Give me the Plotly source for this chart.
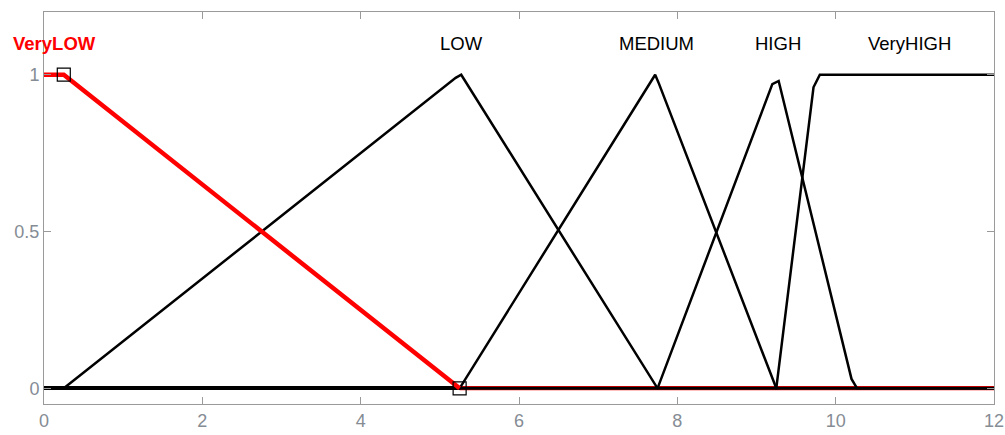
import plotly.graph_objects as go

# membership functions (input range 0..12)
verylow_x = [0, 0.25, 5.25, 12]
verylow_y = [1, 1, 0, 0]
low_x = [0, 0.25, 5.2, 5.27, 7.75, 12]
low_y = [0, 0, 0.99, 1, 0, 0]
medium_x = [0, 5.25, 7.72, 7.77, 9.25, 12]
medium_y = [0, 0, 1, 0.97, 0, 0]
high_x = [0, 7.75, 9.2, 9.28, 10.2, 10.27, 12]
high_y = [0, 0, 0.97, 0.98, 0.03, 0, 0]
veryhigh_x = [0, 9.25, 9.72, 9.8, 12]
veryhigh_y = [0, 0, 0.96, 1, 1]

# selected MF handles (VeryLOW vertices)
handle_x = [0.25, 5.25]
handle_y = [1, 0]

mf_names = ["VeryLOW", "LOW", "MEDIUM", "HIGH", "VeryHIGH"]
label_x = [0.13, 5.27, 7.74, 9.27, 10.93]
label_y = 1.1

x_ticks = [0, 2, 4, 6, 8, 10, 12]
y_ticks = [0, 0.5, 1]

fig = go.Figure()

# selected MF in red: flat zero tail sits under the black lines, slope on top
fig.add_trace(go.Scatter(x=verylow_x[2:], y=verylow_y[2:], mode="lines",
                         line=dict(color="#ff0000", width=4)))
for xs, ys in [(low_x, low_y), (medium_x, medium_y), (high_x, high_y), (veryhigh_x, veryhigh_y)]:
    fig.add_trace(go.Scatter(x=xs, y=ys, mode="lines",
                             line=dict(color="black", width=2.5)))
fig.add_trace(go.Scatter(x=verylow_x[:3], y=verylow_y[:3], mode="lines",
                         line=dict(color="#ff0000", width=4.5)))
fig.add_trace(go.Scatter(x=handle_x, y=handle_y, mode="markers",
                         marker=dict(symbol="square-open", size=13, color="black",
                                     line=dict(width=1.2, color="black"))))

for i, name in enumerate(mf_names):
    sel = name == "VeryLOW"
    fig.add_annotation(x=label_x[i], y=label_y, text=f"<b>{name}</b>" if sel else name,
                       showarrow=False, xanchor="center", yanchor="middle",
                       font=dict(size=18.5, color="#ff0000" if sel else "black",
                                 family="Liberation Sans, Arial, sans-serif"))

axis_common = dict(showgrid=False, showline=True, linecolor="#9a9a9a", linewidth=1,
                   mirror="ticks", ticks="inside", ticklen=7, tickcolor="#9a9a9a",
                   automargin=False,
                   tickfont=dict(size=18, color="#858c94",
                                 family="Liberation Sans, Arial, sans-serif"))

fig.update_layout(
    width=1005, height=435,
    margin=dict(l=44, r=11, t=12, b=31),
    paper_bgcolor="white", plot_bgcolor="white",
    showlegend=False,
    xaxis=dict(range=[0, 12], tickvals=x_ticks, zeroline=False, **axis_common),
    yaxis=dict(range=[-0.05, 1.2], tickvals=y_ticks, ticktext=["0", "0.5", "1"],
               zeroline=True, zerolinecolor="black", zerolinewidth=4, **axis_common),
)

# page body has a default 8px margin; drop it so the figure fills the window
fig.write_html("out.html", config={"displayModeBar": False},
               post_script="document.body.style.margin='0';")
